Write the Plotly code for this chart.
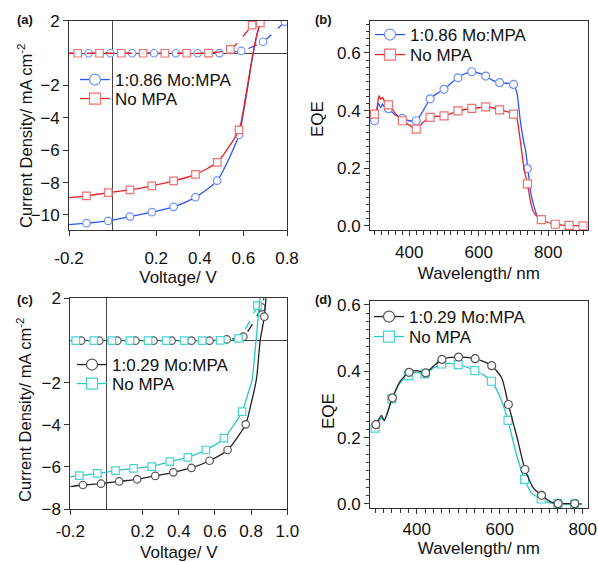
import plotly.graph_objects as go

W, H = 598, 562

# ---------------- Panel (a): J-V, 1:0.86 Mo:MPA vs No MPA ----------------
a_v_mpa_light = [-0.2, -0.12, -0.02, 0.08, 0.18, 0.28, 0.38, 0.48, 0.58, 0.60, 0.62, 0.64, 0.66, 0.676]
a_j_mpa_light = [-10.6, -10.51, -10.37, -10.1, -9.83, -9.5, -8.9, -7.88, -5.06, -3.7, -2.1, -0.4, 1.0, 1.9]
a_v_mpa_light_mk = [-0.12, -0.02, 0.08, 0.18, 0.28, 0.38, 0.48, 0.58]
a_j_mpa_light_mk = [-10.51, -10.37, -10.1, -9.83, -9.5, -8.9, -7.88, -5.06]

a_v_no_light = [-0.2, -0.12, -0.02, 0.08, 0.18, 0.28, 0.38, 0.48, 0.58, 0.60, 0.62, 0.64, 0.66, 0.678]
a_j_no_light = [-8.93, -8.82, -8.62, -8.45, -8.2, -7.9, -7.49, -6.75, -4.75, -3.5, -1.9, -0.3, 1.05, 1.86]
a_v_no_light_mk = [-0.12, -0.02, 0.08, 0.18, 0.28, 0.38, 0.48, 0.58, 0.678]
a_j_no_light_mk = [-8.82, -8.62, -8.45, -8.2, -7.9, -7.49, -6.75, -4.75, 1.86]

a_v_mpa_dark = [-0.2, -0.11, -0.01, 0.09, 0.19, 0.29, 0.39, 0.49, 0.59, 0.69, 0.79]
a_j_mpa_dark = [-0.02, -0.01, -0.01, -0.01, -0.01, -0.01, -0.01, 0.0, 0.13, 0.70, 1.94]
a_v_no_dark = [-0.2, -0.16, -0.06, 0.04, 0.14, 0.24, 0.34, 0.44, 0.54, 0.64]
a_j_no_dark = [-0.01, -0.01, -0.01, -0.01, -0.01, -0.01, -0.01, 0.0, 0.23, 1.73]

# ---------------- Panel (b): EQE ----------------
b_wl_mpa = [292, 300, 306, 311, 318, 323, 330, 340, 360, 380, 400, 420, 440, 460, 480, 500, 520, 540,
            560, 580, 600, 620, 640, 660, 680, 700, 710, 719, 728, 735, 741, 750, 759, 770, 780]
b_eqe_mpa = [0.37, 0.365, 0.39, 0.425, 0.41, 0.423, 0.41, 0.405, 0.385, 0.373, 0.365, 0.365, 0.40, 0.441,
             0.46, 0.474, 0.495, 0.514, 0.528, 0.535, 0.53, 0.52, 0.505, 0.497, 0.495, 0.491, 0.46,
             0.37, 0.30, 0.26, 0.20, 0.113, 0.067, 0.03, 0.022]
b_wl_mpa_mk = [300, 340, 380, 420, 460, 500, 540, 580, 620, 660, 700, 740]
b_eqe_mpa_mk = [0.365, 0.407, 0.373, 0.365, 0.441, 0.474, 0.514, 0.535, 0.520, 0.497, 0.491, 0.199]

b_wl_no = [292, 300, 305, 313, 318, 323, 330, 343, 360, 380, 400, 420, 440, 460, 480, 500, 520, 540, 560,
           580, 600, 620, 640, 660, 680, 700, 710, 720, 730, 740, 748, 757, 770, 780, 800, 820, 840, 860,
           880, 900]
b_eqe_no = [0.39, 0.388, 0.396, 0.452, 0.439, 0.446, 0.43, 0.42, 0.39, 0.365, 0.35, 0.336, 0.36, 0.377,
            0.38, 0.382, 0.39, 0.399, 0.404, 0.408, 0.41, 0.413, 0.41, 0.403, 0.397, 0.388, 0.37, 0.29,
            0.2, 0.146, 0.09, 0.05, 0.03, 0.022, 0.012, 0.006, 0.003, 0.002, 0.001, 0.0]
b_wl_no_mk = [300, 340, 380, 420, 460, 500, 540, 580, 620, 660, 700, 740, 780, 820, 860, 900]
b_eqe_no_mk = [0.388, 0.42, 0.365, 0.336, 0.377, 0.382, 0.399, 0.408, 0.413, 0.403, 0.388, 0.146,
               0.022, 0.006, 0.002, 0.0]

# ---------------- Panel (c): J-V, 1:0.29 Mo:MPA vs No MPA ----------------
c_v_mpa_light = [-0.2, -0.13, -0.03, 0.07, 0.17, 0.27, 0.37, 0.47, 0.57, 0.67, 0.77, 0.80, 0.83, 0.85, 0.873, 0.885]
c_j_mpa_light = [-6.94, -6.86, -6.80, -6.69, -6.59, -6.43, -6.26, -6.05, -5.71, -5.2, -3.98, -3.0, -1.8, 0.0, 1.13, 2.3]
c_v_mpa_light_mk = [-0.13, -0.03, 0.07, 0.17, 0.27, 0.37, 0.47, 0.57, 0.67, 0.77, 0.873]
c_j_mpa_light_mk = [-6.86, -6.80, -6.69, -6.59, -6.43, -6.26, -6.05, -5.71, -5.2, -3.98, 1.13]

c_v_no_light = [-0.2, -0.15, -0.05, 0.05, 0.15, 0.25, 0.35, 0.45, 0.55, 0.65, 0.75, 0.78, 0.805, 0.827, 0.85]
c_j_no_light = [-6.47, -6.42, -6.31, -6.18, -6.07, -5.99, -5.75, -5.55, -5.2, -4.64, -3.38, -2.6, -1.88, 0.0, 2.1]
c_v_no_light_mk = [-0.15, -0.05, 0.05, 0.15, 0.25, 0.35, 0.45, 0.55, 0.65, 0.75]
c_j_no_light_mk = [-6.42, -6.31, -6.18, -6.07, -5.99, -5.75, -5.55, -5.2, -4.64, -3.38]

c_v_mpa_dark = [-0.2, -0.14, -0.04, 0.06, 0.16, 0.26, 0.36, 0.47, 0.57, 0.665, 0.757, 0.857, 0.875]
c_j_mpa_dark = [-0.01, -0.01, -0.01, -0.01, -0.01, -0.01, -0.01, -0.01, -0.01, 0.05, 0.18, 1.57, 2.2]
c_v_no_dark = [-0.2, -0.17, -0.07, 0.03, 0.13, 0.23, 0.33, 0.43, 0.53, 0.63, 0.73, 0.835, 0.85]
c_j_no_dark = [-0.01, -0.01, -0.01, -0.01, -0.01, -0.01, -0.01, -0.01, -0.01, 0.0, 0.1, 1.65, 2.2]

# ---------------- Panel (d): EQE ----------------
d_wl_mpa = [298, 301.6, 315, 321.6, 341.6, 360, 381.6, 400, 421.6, 440, 460.8, 480, 500.8, 520, 540.8, 560,
            580.8, 605, 620.8, 641.6, 660.8, 681.6, 700.8, 721.6, 740.8, 760, 780.8, 797.6]
d_eqe_mpa = [0.236, 0.239, 0.267, 0.252, 0.32, 0.37, 0.397, 0.402, 0.395, 0.415, 0.436, 0.442, 0.443, 0.442,
             0.438, 0.43, 0.417, 0.38, 0.30, 0.202, 0.104, 0.047, 0.026, 0.007, 0.001, 0.001, 0.001, 0.0]
d_wl_mpa_mk = [301.6, 341.6, 381.6, 421.6, 460.8, 500.8, 540.8, 580.8, 620.8, 660.8, 700.8, 740.8, 780.8]
d_eqe_mpa_mk = [0.239, 0.32, 0.397, 0.395, 0.436, 0.443, 0.438, 0.417, 0.30, 0.104, 0.026, 0.001, 0.001]

d_wl_no = [298, 300, 315, 322, 340, 360, 380, 400, 420, 440, 460, 480, 500, 520, 540, 560, 580, 600, 620,
           637.6, 660, 677.6, 700, 721.6, 740, 760, 780]
d_eqe_no = [0.226, 0.229, 0.26, 0.25, 0.317, 0.365, 0.387, 0.397, 0.392, 0.41, 0.422, 0.424, 0.42, 0.413,
            0.402, 0.39, 0.37, 0.325, 0.252, 0.162, 0.074, 0.032, 0.015, 0.003, 0.001, 0.0, 0.0]
d_wl_no_mk = [300, 340, 380, 420, 460, 500, 540, 580, 620, 660, 700, 740, 780]
d_eqe_no_mk = [0.229, 0.317, 0.387, 0.392, 0.422, 0.42, 0.402, 0.37, 0.252, 0.074, 0.015, 0.001, 0.0]

legend_a = ["1:0.86 Mo:MPA", "No MPA"]
legend_c = ["1:0.29 Mo:MPA", "No MPA"]
jv_ytitle = "Current Density/ mA cm<sup>-2</sup>"
eqe_ytitle = "EQE"

# ---------------- styling ----------------
BLUE, BLUE_MK = "#2b55ff", "#6f8fff"
RED, RED_MK = "#e8202a", "#f07070"
BLACK, BLACK_MK = "#222222", "#555555"
CYAN, CYAN_MK = "#22c8c8", "#44d4d4"
FONT = "Liberation Sans, Arial, sans-serif"
AX = "#333333"

fig = go.Figure()


def add_series(xa, ya, xm, ym, color, mkcolor, symbol, size, dash, ax):
    fig.add_trace(go.Scatter(
        x=xa, y=ya, mode="lines", showlegend=False, xaxis="x" + ax, yaxis="y" + ax,
        line=dict(color=color, width=1.3, dash=dash, shape="spline", smoothing=0.6), hoverinfo="skip"))
    fig.add_trace(go.Scatter(
        x=xm, y=ym, mode="markers", showlegend=False, xaxis="x" + ax, yaxis="y" + ax,
        marker=dict(symbol=symbol, size=size, color="white", line=dict(color=mkcolor, width=1.2))))


def add_legend(name, color, mkcolor, symbol, legend, ax):
    fig.add_trace(go.Scatter(
        x=[None], y=[None], mode="lines+markers", name=name, legend=legend,
        xaxis="x" + ax, yaxis="y" + ax,
        line=dict(color=color, width=1.3),
        marker=dict(symbol=symbol, size=11, color="white", line=dict(color=mkcolor, width=1.2))))


# panel a (axis "")
add_series(a_v_mpa_dark, a_j_mpa_dark, a_v_mpa_dark[1:], a_j_mpa_dark[1:], BLUE, BLUE_MK, "circle", 7.5, "dash", "")
add_series(a_v_no_dark, a_j_no_dark, a_v_no_dark[1:], a_j_no_dark[1:], RED, RED_MK, "square", 7.5, "dash", "")
add_series(a_v_mpa_light, a_j_mpa_light, a_v_mpa_light_mk, a_j_mpa_light_mk, BLUE, BLUE_MK, "circle", 7.5, "solid", "")
add_series(a_v_no_light, a_j_no_light, a_v_no_light_mk, a_j_no_light_mk, RED, RED_MK, "square", 7.5, "solid", "")
add_legend(legend_a[0], BLUE, BLUE_MK, "circle", "legend", "")
add_legend(legend_a[1], RED, RED_MK, "square", "legend2", "")

# panel b
add_series(b_wl_mpa, b_eqe_mpa, b_wl_mpa_mk, b_eqe_mpa_mk, BLUE, BLUE_MK, "circle", 8, "solid", "2")
add_series(b_wl_no, b_eqe_no, b_wl_no_mk, b_eqe_no_mk, RED, RED_MK, "square", 8, "solid", "2")
add_legend(legend_a[0], BLUE, BLUE_MK, "circle", "legend3", "2")
add_legend(legend_a[1], RED, RED_MK, "square", "legend4", "2")

# panel c
add_series(c_v_mpa_dark, c_j_mpa_dark, c_v_mpa_dark[1:-1], c_j_mpa_dark[1:-1], BLACK, BLACK_MK, "circle", 7.5, "dash", "3")
add_series(c_v_no_dark, c_j_no_dark, c_v_no_dark[1:-1], c_j_no_dark[1:-1], CYAN, CYAN_MK, "square", 7.5, "dash", "3")
add_series(c_v_no_light, c_j_no_light, c_v_no_light_mk, c_j_no_light_mk, CYAN, CYAN_MK, "square", 7.5, "solid", "3")
add_series(c_v_mpa_light, c_j_mpa_light, c_v_mpa_light_mk, c_j_mpa_light_mk, BLACK, BLACK_MK, "circle", 7.5, "solid", "3")
add_legend(legend_c[0], BLACK, BLACK_MK, "circle", "legend5", "3")
add_legend(legend_c[1], CYAN, CYAN_MK, "square", "legend6", "3")

# panel d
add_series(d_wl_no, d_eqe_no, d_wl_no_mk, d_eqe_no_mk, CYAN, CYAN_MK, "square", 8, "solid", "4")
add_series(d_wl_mpa, d_eqe_mpa, d_wl_mpa_mk, d_eqe_mpa_mk, BLACK, BLACK_MK, "circle", 8, "solid", "4")
add_legend(legend_c[0], BLACK, BLACK_MK, "circle", "legend7", "4")
add_legend(legend_c[1], CYAN, CYAN_MK, "square", "legend8", "4")


def px_x(p):
    return p / W


def px_y(p):
    return 1 - p / H


tickfont = dict(family=FONT, size=17, color="#111")
titlefont = dict(family=FONT, size=17, color="#111")
ytitlefont = dict(family=FONT, size=16.5, color="#111")

common = dict(showline=True, mirror=True, linecolor=AX, linewidth=1, ticks="outside", ticklen=5,
              tickcolor=AX, tickwidth=1, showgrid=False, tickfont=tickfont, automargin=False)

jv_zero = dict(zeroline=True, zerolinecolor="#444", zerolinewidth=1)

layout = dict(
    width=W, height=H, margin=dict(l=0, r=0, t=0, b=0, autoexpand=False),
    paper_bgcolor="white", plot_bgcolor="white", font=dict(family=FONT),
    # (a)
    xaxis=dict(domain=[px_x(69), px_x(287)], range=[-0.2, 0.8], anchor="y",
               tickvals=[-0.2, 0.2, 0.4, 0.6, 0.8], ticktext=["-0.2", "0.2", "0.4", "0.6", "0.8"],
               title=dict(text="Voltage/ V", font=titlefont, standoff=0), ticklabelstandoff=8,
               **common, **jv_zero),
    yaxis=dict(domain=[px_y(230), px_y(20.7)], range=[-10.93, 2], anchor="x",
               tickvals=[2, -2, -4, -6, -8, -10], **common, **jv_zero),
    # (b)
    xaxis2=dict(domain=[px_x(370), px_x(587.7)], range=[287, 913.4], anchor="y2",
                tickvals=[400, 600, 800],
                minor=dict(dtick=20, tick0=300, ticks="outside", ticklen=4, tickcolor=AX),
                title=dict(text="Wavelength/ nm", font=titlefont, standoff=5), ticklabelstandoff=2,
                zeroline=False, **common),
    yaxis2=dict(domain=[px_y(230), px_y(20.7)], range=[-0.014, 0.712], anchor="x2",
                tickvals=[0.0, 0.2, 0.4, 0.6], ticktext=["0.0", "0.2", "0.4", "0.6"],
                minor=dict(dtick=0.025, tick0=0, ticks="outside", ticklen=3, tickcolor=AX),
                zeroline=False, **common),
    # (c)
    xaxis3=dict(domain=[px_x(70.3), px_x(287.3)], range=[-0.2, 1.0], anchor="y3",
                tickvals=[-0.2, 0.2, 0.4, 0.6, 0.8, 1.0], ticktext=["-0.2", "0.2", "0.4", "0.6", "0.8", "1.0"],
                title=dict(text="Voltage/ V", font=titlefont, standoff=19), ticklabelstandoff=2,
                **common, **jv_zero),
    yaxis3=dict(domain=[px_y(509), px_y(298.3)], range=[-8, 2], anchor="x3",
                tickvals=[2, -2, -4, -6, -8], **common, **jv_zero),
    # (d)
    xaxis4=dict(domain=[px_x(370), px_x(587.7)], range=[287.5, 812], anchor="y4",
                tickvals=[400, 600, 800],
                minor=dict(dtick=20, tick0=300, ticks="outside", ticklen=4, tickcolor=AX),
                title=dict(text="Wavelength/ nm", font=titlefont, standoff=2), ticklabelstandoff=0,
                zeroline=False, **common),
    yaxis4=dict(domain=[px_y(508.3), px_y(301)], range=[-0.013, 0.612], anchor="x4",
                tickvals=[0.0, 0.2, 0.4, 0.6], ticktext=["0.0", "0.2", "0.4", "0.6"],
                minor=dict(dtick=0.025, tick0=0, ticks="outside", ticklen=3, tickcolor=AX),
                zeroline=False, **common),
)

leg_common = dict(bgcolor="rgba(0,0,0,0)", borderwidth=0, font=dict(family=FONT, size=17, color="#111"),
                  xanchor="left", yanchor="middle", tracegroupgap=0, itemwidth=30)
# (legend name, left px of symbol line, centre px of row)
legend_pos = [("legend", 80, 80), ("legend2", 80, 99),
              ("legend3", 375, 35), ("legend4", 375, 55),
              ("legend5", 77, 365), ("legend6", 77, 384),
              ("legend7", 374, 317), ("legend8", 374, 337)]
for name, lx, ly in legend_pos:
    layout[name] = dict(x=px_x(lx - 5), y=px_y(ly), **leg_common)

labels = [("(a)", 15, 20), ("(b)", 313, 20), ("(c)", 15, 300), ("(d)", 313, 300)]
annots = [
    dict(text="<b>%s</b>" % t, x=px_x(x), y=px_y(y), xref="paper", yref="paper", xanchor="left",
         yanchor="middle", showarrow=False, font=dict(family=FONT, size=13, color="#111"))
    for t, x, y in labels
]
# rotated y-axis titles (text, centre x px, centre y px)
ytitles = [(jv_ytitle, 25, 136), (eqe_ytitle, 317, 119), (jv_ytitle, 24, 410), (eqe_ytitle, 328, 411)]
for t, x, y in ytitles:
    annots.append(dict(text=t, x=px_x(x), y=px_y(y), xref="paper", yref="paper", xanchor="center",
                       yanchor="middle", textangle=-90, showarrow=False,
                       font=ytitlefont if t == jv_ytitle else titlefont))
layout["annotations"] = annots

fig.update_layout(**layout)
fig.write_html("out.html")
